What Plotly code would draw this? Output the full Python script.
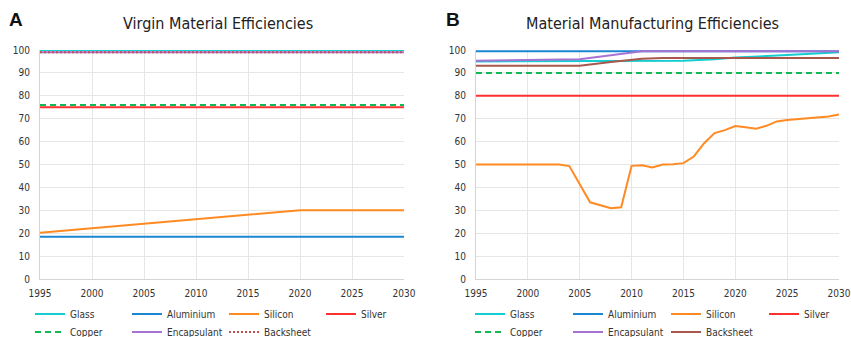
import plotly.graph_objects as go

# ---------------- data ----------------
series_names = ["Glass", "Aluminium", "Silicon", "Silver", "Copper", "Encapsulant", "Backsheet"]

# Panel A: Virgin Material Efficiencies
a_years_const = [1995, 2030]
a_glass = [100, 100]
a_aluminium = [18.5, 18.5]
a_silicon_years = [1995, 2000, 2005, 2010, 2015, 2020, 2025, 2030]
a_silicon = [20.2, 22.2, 24.1, 26.2, 28.1, 30.0, 30.0, 30.0]
a_silver = [75, 75]
a_copper = [76, 76]
a_encapsulant = [99, 99]
a_backsheet = [99, 99]

# Panel B: Material Manufacturing Efficiencies
b_glass_years = [1995, 2012, 2015, 2018, 2020, 2025, 2030]
b_glass = [95.0, 95.0, 95.3, 96.0, 96.7, 97.8, 99.0]
b_aluminium_years = [1995, 2030]
b_aluminium = [99.4, 99.4]
b_silicon_years = list(range(1995, 2031))
b_silicon = [50, 50, 50, 50, 50, 50, 50, 50, 50, 49.3,
             41.5, 33.5, 32.2, 30.9, 31.3, 49.4, 49.7, 48.7, 50.0, 50.1,
             50.6, 53.5, 59.3, 63.7, 65.0, 66.8, 66.3, 65.6, 66.9, 68.8,
             69.4, 69.8, 70.2, 70.6, 71.0, 71.8]
b_silver_years = [1995, 2030]
b_silver = [80, 80]
b_copper_years = [1995, 2030]
b_copper = [90, 90]
b_encapsulant_years = [1995, 2005, 2011, 2030]
b_encapsulant = [95.3, 96.0, 99.4, 99.4]
b_backsheet_years = [1995, 2005, 2008, 2011, 2013, 2030]
b_backsheet = [93.1, 93.1, 94.8, 96.2, 96.5, 96.5]

x_ticks = [1995, 2000, 2005, 2010, 2015, 2020, 2025, 2030]
y_ticks = [0, 10, 20, 30, 40, 50, 60, 70, 80, 90, 100]

# ---------------- styles ----------------
colors = {
    "Glass": "#14cdd0",
    "Aluminium": "#1d86d3",
    "Silicon": "#ff8a22",
    "Silver": "#ff3030",
    "Copper": "#10b956",
    "Encapsulant": "#a673d2",
    "Backsheet": "#a8584c",
}
FONT = "DejaVu Sans Condensed, DejaVu Sans, sans-serif"
LW = 2

fig = go.Figure()

def add(x, y, name, xa, ya, legend, dash="solid", color=None):
    fig.add_trace(go.Scatter(
        x=x, y=y, name=name, mode="lines",
        line=dict(color=color or colors[name], width=LW, dash=dash),
        xaxis=xa, yaxis=ya, legend=legend, hoverinfo="skip",
    ))

# Panel A
add(a_years_const, a_glass, "Glass", "x", "y", "legend")
add(a_years_const, a_aluminium, "Aluminium", "x", "y", "legend")
add(a_silicon_years, a_silicon, "Silicon", "x", "y", "legend")
add(a_years_const, a_silver, "Silver", "x", "y", "legend")
add(a_years_const, a_copper, "Copper", "x", "y", "legend2", dash="6px,4px")
add(a_years_const, a_encapsulant, "Encapsulant", "x", "y", "legend2")
add(a_years_const, a_backsheet, "Backsheet", "x", "y", "legend2", dash="2px,2px", color="#c0504d")

# Panel B
add(b_glass_years, b_glass, "Glass", "x2", "y2", "legend3")
add(b_aluminium_years, b_aluminium, "Aluminium", "x2", "y2", "legend3")
add(b_silicon_years, b_silicon, "Silicon", "x2", "y2", "legend3")
add(b_silver_years, b_silver, "Silver", "x2", "y2", "legend3")
add(b_copper_years, b_copper, "Copper", "x2", "y2", "legend4", dash="6px,4px")
add(b_encapsulant_years, b_encapsulant, "Encapsulant", "x2", "y2", "legend4")
add(b_backsheet_years, b_backsheet, "Backsheet", "x2", "y2", "legend4")

W, H = 851, 337
ML, MR, MT, MB = 40, 12, 50, 58
PW = W - ML - MR
PH = H - MT - MB

def px_x(p):
    return (p - ML) / PW

def px_y(p):
    return (H - MB - p) / PH

xa_common = dict(
    range=[1995, 2030], tickvals=x_ticks, showgrid=True, gridcolor="#e6e6e6",
    gridwidth=1, showline=True, linecolor="#d4d4d4", linewidth=1, zeroline=False,
    ticks="", ticklabelstandoff=5, tickfont=dict(family=FONT, size=10, color="#333333"),
)
ya_common = dict(
    range=[0, 100], tickvals=y_ticks, showgrid=True, gridcolor="#e6e6e6",
    gridwidth=1, showline=True, linecolor="#d4d4d4", linewidth=1, zeroline=False,
    ticks="", ticklabelstandoff=7, tickfont=dict(family=FONT, size=10, color="#333333"),
)

left_dom = [0, px_x(404)]
right_dom = [px_x(476), 1]

leg_common = dict(
    orientation="h", entrywidthmode="pixels",
    font=dict(family=FONT, size=10, color="#333333"), bgcolor="rgba(0,0,0,0)",
    xanchor="left", yanchor="middle", itemwidth=30, tracegroupgap=0,
)

fig.update_layout(
    width=W, height=H,
    margin=dict(l=ML, r=MR, t=MT, b=MB, autoexpand=False),
    paper_bgcolor="white", plot_bgcolor="white",
    xaxis=dict(domain=left_dom, anchor="y", **xa_common),
    yaxis=dict(domain=[0, 1], anchor="x", **ya_common),
    xaxis2=dict(domain=right_dom, anchor="y2", **xa_common),
    yaxis2=dict(domain=[0, 1], anchor="x2", **ya_common),
    legend=dict(x=px_x(30), y=px_y(314), entrywidth=52, **leg_common),
    legend2=dict(x=px_x(30), y=px_y(332), entrywidth=52, **leg_common),
    legend3=dict(x=px_x(470), y=px_y(314), entrywidth=53, **leg_common),
    legend4=dict(x=px_x(470), y=px_y(332), entrywidth=53, **leg_common),
    showlegend=True,
    annotations=[
        dict(text="Virgin Material Efficiencies", x=px_x(218), y=px_y(24), xref="paper", yref="paper",
             xanchor="center", yanchor="middle", showarrow=False,
             font=dict(family=FONT, size=16, color="#222222")),
        dict(text="Material Manufacturing Efficiencies", x=px_x(652), y=px_y(24), xref="paper", yref="paper",
             xanchor="center", yanchor="middle", showarrow=False,
             font=dict(family=FONT, size=16, color="#222222")),
        dict(text="<b>A</b>", x=px_x(16), y=px_y(20), xref="paper", yref="paper",
             xanchor="center", yanchor="middle", showarrow=False,
             font=dict(family="Liberation Sans, Arial, sans-serif", size=19, color="#111111")),
        dict(text="<b>B</b>", x=px_x(453), y=px_y(19), xref="paper", yref="paper",
             xanchor="center", yanchor="middle", showarrow=False,
             font=dict(family="Liberation Sans, Arial, sans-serif", size=19, color="#111111")),
    ],
)

fig.write_html("out.html")
